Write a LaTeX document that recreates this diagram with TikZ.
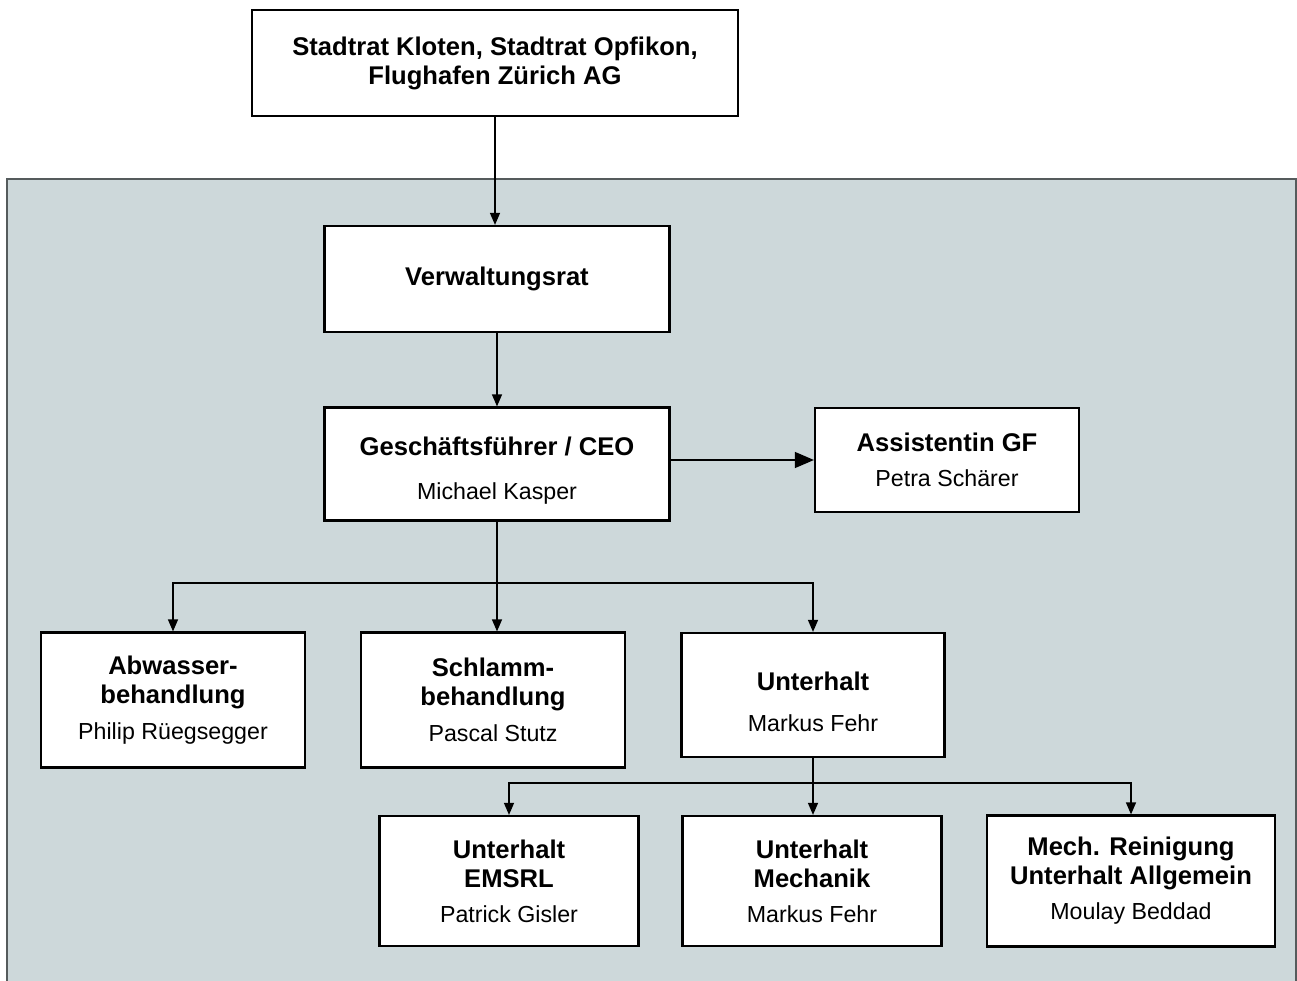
\documentclass[tikz,border=0pt]{standalone}
\usepackage{fontspec}
\setmainfont{Liberation Sans}
\usetikzlibrary{arrows.meta}
\definecolor{panel}{HTML}{CDD8DA}
\definecolor{panelline}{HTML}{555B5C}
\newcommand{\lead}[1]{{\bfseries\fontsize{25.6}{29}\selectfont #1}}

\begin{document}
\begin{tikzpicture}[x=1pt,y=-1pt,>={Triangle[length=12pt,width=10pt]},
    unit/.style={draw,line width=2.2pt,fill=white,align=center,inner sep=0pt,
      font=\fontsize{23.2}{29}\selectfont},
    link/.style={->,line width=1.3pt}]
  \useasboundingbox (0,0) rectangle (1297,981);
  % grey frame of the company
  \draw[panelline,fill=panel,line width=1.3pt] (7,179) rectangle (1296,995);

  \node[unit,minimum width=486,minimum height=106] (board) at (495,63)
    {\lead{Stadtrat Kloten, Stadtrat Opfikon,}\\\lead{Flughafen Zürich AG}};
  \node[unit,minimum width=345,minimum height=106] (vr) at (497,279) {\lead{Verwaltungsrat}};
  \node[unit,minimum width=345,minimum height=113] (gf) at (497,464)
    {\rule{0pt}{32pt}\lead{Geschäftsführer / CEO}\\[15pt]Michael Kasper};
  \node[unit,minimum width=264,minimum height=104] (assist) at (947,460)
    {\lead{Assistentin GF}\\[6pt]Petra Schärer};
  % departments
  \node[unit,minimum width=264,minimum height=135] (abw) at (173,700)
    {\lead{Abwasser-}\\\lead{behandlung}\\[7pt]Philip Rüegsegger};
  \node[unit,minimum width=264,minimum height=135] (schl) at (493,700)
    {\lead{Schlamm-}\\\lead{behandlung}\\[7pt]Pascal Stutz};
  \node[unit,minimum width=263,minimum height=124] (uh) at (813,695)
    {\rule{0pt}{33pt}\lead{Unterhalt}\\[12pt]Markus Fehr};
  % maintenance groups
  \node[unit,minimum width=259,minimum height=130] (emsrl) at (509,881)
    {\lead{Unterhalt}\\\lead{EMSRL}\\[6pt]Patrick Gisler};
  \node[unit,minimum width=259,minimum height=130] (mech) at (812,881)
    {\lead{Unterhalt}\\\lead{Mechanik}\\[6pt]Markus Fehr};
  \node[unit,minimum width=288,minimum height=131] (allg) at (1131,881)
    {\lead{Mech. Reinigung}\\\lead{Unterhalt Allgemein}\\[6pt]Moulay Beddad};

  \coordinate (split1) at (497,583);
  \coordinate (split2) at (813,783);

  \draw[link] (board.south) -- (board.south |- vr.north);
  \draw[link] (vr) -- (gf);
  \draw[-{Triangle[length=19pt,width=16pt]},line width=1.3pt] (gf.east |- assist.west) -- (assist.west);
  \draw[line width=1.3pt] (gf.south) -- (split1);
  \draw[link] (split1) -| (abw.north);
  \draw[link] (split1) -| (uh.north);
  \draw[link] (split1) -- (split1 |- schl.north);
  \draw[line width=1.3pt] (uh.south) -- (split2);
  \draw[link] (split2) -| (emsrl.north);
  \draw[link] (split2) -| (allg.north);
  \draw[link] (split2) -- (split2 |- mech.north);
\end{tikzpicture}
\end{document}
